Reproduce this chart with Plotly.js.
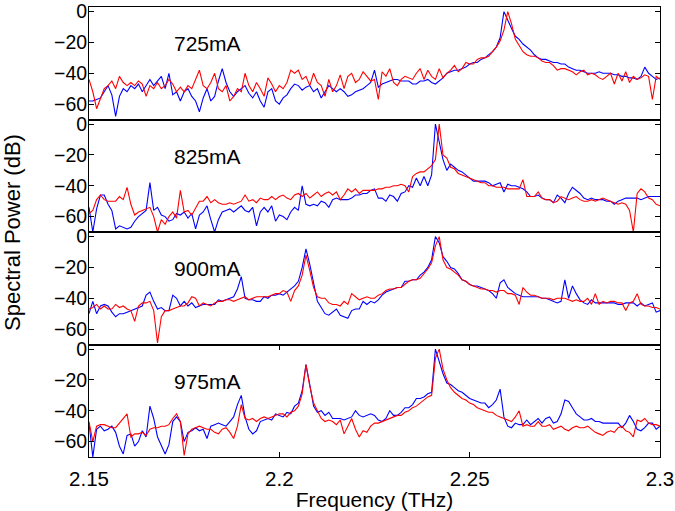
<!DOCTYPE html>
<html>
<head>
<meta charset="utf-8">
<script src="https://cdn.plot.ly/plotly-3.0.1.min.js"></script>
<style>html,body{margin:0;padding:0;background:#fff;}#chart{width:675px;height:511px;}</style>
</head>
<body>
<div id="chart"></div>
<script>
// Frequency grid (THz)
const freq = [
2.150,2.151,2.152,2.153,2.154,2.155,2.156,2.157,2.158,2.159,
2.160,2.161,2.162,2.163,2.164,2.165,2.166,2.167,2.168,2.169,
2.170,2.171,2.172,2.173,2.174,2.175,2.176,2.177,2.178,2.179,
2.180,2.181,2.182,2.183,2.184,2.185,2.186,2.187,2.188,2.189,
2.190,2.191,2.192,2.193,2.194,2.195,2.196,2.197,2.198,2.199,
2.200,2.201,2.202,2.203,2.204,2.205,2.206,2.207,2.208,2.209,
2.210,2.211,2.212,2.213,2.214,2.215,2.216,2.217,2.218,2.219,
2.220,2.221,2.222,2.223,2.224,2.225,2.226,2.227,2.228,2.229,
2.230,2.231,2.232,2.233,2.234,2.235,2.236,2.237,2.238,2.239,
2.240,2.241,2.242,2.243,2.244,2.245,2.246,2.247,2.248,2.249,
2.250,2.251,2.252,2.253,2.254,2.255,2.256,2.257,2.258,2.259,
2.260,2.261,2.262,2.263,2.264,2.265,2.266,2.267,2.268,2.269,
2.270,2.271,2.272,2.273,2.274,2.275,2.276,2.277,2.278,2.279,
2.280,2.281,2.282,2.283,2.284,2.285,2.286,2.287,2.288,2.289,
2.290,2.291,2.292,2.293,2.294,2.295,2.296,2.297,2.298,2.299,
2.300];

const currents = ["725mA", "825mA", "900mA", "975mA"];

// 725 mA
const blue725 = [
-58,-58,-57,-56,-52,-48,-54,-68,-55,-50,
-52,-48,-50,-47,-52,-48,-44,-48,-45,-42,
-50,-40,-54,-52,-58,-52,-50,-55,-58,-65,
-56,-50,-58,-55,-45,-37,-46,-52,-55,-52,
-50,-48,-53,-56,-52,-58,-62,-52,-50,-58,
-60,-56,-54,-50,-47,-48,-51,-49,-48,-52,
-50,-56,-52,-48,-50,-52,-50,-52,-55,-54,
-52,-51,-50,-48,-46,-38,-49,-47,-46,-45,
-44,-44,-45,-45,-45,-47,-47,-45,-45,-44,
-46,-47,-45,-43,-40,-39,-38,-38,-37,-36,
-34,-33,-33,-31,-30,-28,-26,-23,-17,0,
-6,-11,-16,-18,-21,-23,-25,-28,-30,-31,
-31,-32,-33,-33,-34,-34,-36,-37,-38,-38,
-39,-40,-40,-40,-39,-40,-40,-40,-41,-41,
-42,-42,-43,-43,-44,-42,-36,-40,-42,-44,-43];
const red725 = [
-44,-52,-63,-56,-50,-48,-45,-50,-42,-46,
-48,-46,-48,-45,-47,-55,-48,-50,-46,-50,
-48,-44,-47,-52,-49,-52,-48,-50,-44,-38,
-48,-50,-46,-40,-50,-52,-48,-58,-55,-50,
-52,-40,-48,-52,-46,-50,-55,-43,-47,-52,
-48,-50,-46,-38,-40,-38,-44,-42,-48,-40,
-46,-48,-55,-44,-52,-48,-41,-50,-42,-40,
-46,-44,-39,-42,-45,-44,-57,-39,-42,-37,
-46,-48,-44,-42,-43,-44,-40,-37,-44,-38,
-42,-44,-37,-43,-40,-38,-35,-39,-37,-33,
-34,-34,-31,-30,-30,-29,-26,-23,-19,-12,
0,-8,-18,-22,-26,-28,-29,-29,-30,-32,
-33,-33,-35,-38,-37,-37,-38,-39,-41,-39,
-38,-41,-40,-41,-43,-44,-42,-40,-47,-40,
-45,-39,-46,-42,-44,-43,-41,-42,-57,-42,-44];

// 825 mA
const blue825 = [
-54,-70,-55,-46,-46,-52,-56,-68,-66,-67,
-68,-67,-63,-60,-58,-56,-38,-56,-54,-59,
-60,-63,-62,-58,-59,-57,-61,-58,-68,-59,
-57,-53,-62,-70,-62,-57,-56,-55,-57,-55,
-53,-56,-57,-54,-66,-57,-54,-57,-53,-63,
-59,-60,-62,-57,-54,-56,-40,-52,-53,-52,
-53,-50,-51,-54,-49,-48,-49,-49,-49,-48,
-46,-46,-45,-45,-43,-42,-48,-48,-50,-46,
-47,-50,-45,-44,-40,-41,-35,-40,-34,-40,
-33,0,-12,-23,-30,-26,-28,-30,-31,-33,
-35,-37,-37,-37,-37,-38,-40,-39,-38,-44,
-39,-40,-40,-41,-42,-44,-47,-47,-46,-48,
-49,-49,-51,-46,-48,-51,-45,-41,-43,-45,
-48,-49,-48,-49,-49,-49,-50,-50,-52,-50,
-49,-48,-48,-48,-48,-49,-48,-47,-47,-47,-47];
const red825 = [
-58,-56,-49,-46,-49,-50,-50,-50,-47,-49,
-41,-52,-59,-57,-56,-55,-54,-60,-70,-62,
-65,-60,-57,-61,-43,-57,-56,-59,-54,-50,
-50,-47,-51,-49,-51,-52,-52,-51,-52,-51,
-50,-46,-50,-49,-51,-48,-49,-49,-47,-49,
-47,-46,-48,-49,-46,-45,-47,-45,-48,-46,
-44,-47,-45,-44,-46,-44,-49,-46,-42,-44,
-42,-45,-43,-43,-43,-43,-42,-42,-41,-41,
-40,-40,-39,-40,-44,-34,-32,-31,-31,-29,
-27,-23,0,-20,-22,-28,-29,-32,-33,-34,
-35,-36,-37,-38,-38,-40,-40,-41,-41,-41,
-42,-42,-42,-42,-36,-47,-47,-47,-44,-48,
-49,-49,-51,-50,-47,-48,-49,-48,-47,-49,
-50,-50,-49,-50,-49,-48,-49,-50,-51,-52,
-51,-52,-56,-70,-45,-42,-44,-48,-49,-52,-53];

// 900 mA
const blue900 = [
-50,-42,-50,-45,-44,-45,-49,-52,-50,-50,
-49,-48,-47,-46,-45,-38,-36,-42,-47,-46,
-48,-48,-38,-40,-45,-42,-45,-43,-46,-45,
-44,-44,-44,-44,-41,-42,-41,-40,-39,-34,
-26,-40,-41,-41,-42,-42,-39,-40,-38,-38,
-37,-38,-36,-34,-32,-29,-20,-8,-18,-30,
-42,-46,-50,-51,-49,-47,-51,-52,-53,-48,
-47,-47,-42,-44,-42,-43,-41,-38,-36,-35,
-34,-33,-33,-29,-29,-28,-28,-25,-23,-20,
-15,0,-4,-13,-16,-20,-21,-24,-28,-29,
-31,-32,-32,-33,-34,-35,-37,-40,-30,-28,
-33,-35,-37,-38,-39,-39,-39,-39,-39,-40,
-40,-41,-42,-43,-42,-28,-40,-32,-37,-41,
-43,-44,-41,-43,-43,-43,-43,-43,-43,-44,
-44,-43,-43,-43,-45,-43,-45,-44,-43,-49,-48];
const red900 = [
-47,-46,-44,-47,-45,-47,-47,-44,-46,-45,
-47,-48,-55,-45,-43,-43,-42,-48,-69,-52,
-48,-48,-47,-46,-45,-45,-43,-39,-40,-45,
-43,-44,-45,-43,-42,-42,-41,-41,-42,-41,
-40,-39,-41,-40,-39,-39,-39,-39,-38,-37,
-37,-35,-36,-42,-35,-32,-25,-12,-22,-33,
-39,-40,-40,-43,-44,-44,-45,-42,-44,-37,
-39,-41,-40,-39,-40,-40,-38,-37,-35,-34,
-34,-33,-33,-31,-29,-28,-28,-27,-24,-21,
-17,-6,0,-15,-20,-21,-23,-25,-28,-29,
-31,-32,-33,-34,-34,-35,-35,-36,-35,-35,
-37,-37,-38,-44,-33,-36,-38,-38,-39,-40,
-40,-40,-41,-40,-40,-40,-41,-42,-41,-42,
-42,-40,-44,-37,-44,-42,-43,-42,-42,-43,
-43,-48,-43,-42,-37,-44,-45,-45,-46,-46,-47];

// 975 mA
const blue975 = [
-48,-70,-52,-50,-53,-52,-50,-54,-63,-68,
-56,-55,-63,-60,-53,-57,-37,-45,-57,-63,
-68,-62,-47,-44,-47,-60,-54,-53,-51,-53,
-52,-58,-50,-49,-48,-49,-50,-47,-44,-36,
-30,-44,-52,-55,-53,-47,-46,-45,-46,-42,
-43,-44,-41,-42,-37,-35,-27,-10,-23,-37,
-41,-40,-43,-41,-45,-45,-45,-46,-45,-44,
-40,-43,-44,-43,-42,-43,-46,-47,-45,-40,
-43,-43,-41,-38,-38,-36,-32,-32,-31,-29,
-28,0,-8,-16,-22,-23,-25,-27,-28,-30,
-32,-33,-34,-35,-35,-38,-36,-33,-26,-44,
-50,-51,-48,-49,-49,-46,-49,-47,-45,-48,
-45,-44,-48,-47,-42,-33,-34,-38,-42,-44,
-46,-46,-45,-47,-47,-48,-48,-48,-48,-48,
-51,-48,-43,-47,-52,-53,-51,-48,-48,-52,-50];
const red975 = [
-47,-60,-50,-49,-49,-50,-51,-51,-48,-45,
-42,-57,-55,-55,-54,-56,-52,-51,-51,-50,
-50,-49,-45,-42,-47,-69,-55,-52,-51,-50,
-51,-52,-52,-54,-55,-52,-51,-54,-58,-50,
-36,-45,-46,-45,-47,-45,-44,-45,-44,-43,
-42,-42,-44,-41,-40,-37,-29,-10,-24,-35,
-40,-45,-47,-46,-47,-49,-46,-55,-50,-45,
-52,-57,-53,-54,-50,-48,-48,-47,-46,-45,
-44,-43,-43,-41,-40,-38,-37,-35,-33,-31,
-30,-6,0,-13,-20,-25,-28,-30,-32,-33,
-35,-36,-38,-39,-40,-41,-41,-43,-44,-45,
-46,-47,-44,-40,-50,-49,-50,-50,-47,-50,
-50,-49,-52,-51,-50,-52,-53,-51,-50,-51,
-51,-50,-52,-54,-55,-56,-54,-53,-54,-51,
-50,-53,-54,-57,-46,-47,-45,-48,-49,-49,-50];

const yTickVals = [-60, -40, -20, 0];
const xTickVals = [2.15, 2.2, 2.25, 2.3];
const xTickText = ["2.15", "2.2", "2.25", "2.3"];

const blues = [blue725, blue825, blue900, blue975];
const reds = [red725, red825, red900, red975];

const FONT = "Liberation Sans, Arial, Helvetica, sans-serif";
const traces = [];
const layout = {
  width: 675, height: 511,
  margin: {l: 89, r: 15, t: 7, b: 54},
  paper_bgcolor: "#fff", plot_bgcolor: "#fff",
  showlegend: false,
  font: {family: FONT, size: 20, color: "#000"},
  annotations: []
};

for (let k = 0; k < 4; k++) {
  const n = k + 1;
  const xa = n === 1 ? "x" : "x" + n;
  const ya = n === 1 ? "y" : "y" + n;
  traces.push({x: freq, y: blues[k], xaxis: xa, yaxis: ya, type: "scatter", mode: "lines",
    line: {color: "#0000ff", width: 1.1}, hoverinfo: "skip"});
  traces.push({x: freq, y: reds[k], xaxis: xa, yaxis: ya, type: "scatter", mode: "lines",
    line: {color: "#ff0000", width: 1.1}, hoverinfo: "skip"});
  const top = 1 - 0.25 * k, bot = 1 - 0.25 * (k + 1);
  const isBottom = (k === 3);
  layout[n === 1 ? "xaxis" : "xaxis" + n] = {
    domain: [0, 1], anchor: ya, range: [2.15, 2.3],
    showline: true, linecolor: "#000", linewidth: 1,
    mirror: isBottom ? "ticks" : true,
    ticks: isBottom ? "inside" : "", ticklen: 5, tickcolor: "#000",
    tickvals: xTickVals, ticktext: xTickText,
    showticklabels: isBottom, showgrid: false, zeroline: false,
    ticklabelstandoff: 3,
    tickfont: {family: FONT, size: 20.5, color: "#000"},
    title: isBottom ? {text: "Frequency (THz)", font: {family: FONT, size: 21, color: "#000"}, standoff: 6} : {text: ""}
  };
  layout[n === 1 ? "yaxis" : "yaxis" + n] = {
    domain: [bot, top], anchor: xa, range: [-70, 3],
    showline: true, linecolor: "#000", linewidth: 1, mirror: "ticks",
    ticks: "inside", ticklen: 5, tickcolor: "#000",
    tickvals: yTickVals, showgrid: false, zeroline: false,
    ticklabeloverflow: "allow", ticklabelstandoff: -3,
    tickfont: {family: FONT, size: 19.5, color: "#000"}
  };
  layout.annotations.push({
    text: currents[k], xref: xa, yref: ya, x: 2.181, y: -21,
    showarrow: false, xanchor: "center", yanchor: "middle",
    font: {family: FONT, size: 21, color: "#000"}
  });
}
layout.annotations.push({
  text: "Spectral Power (dB)", xref: "paper", yref: "paper",
  x: -0.135, y: 0.5, textangle: -90, showarrow: false,
  xanchor: "center", yanchor: "middle",
  font: {family: FONT, size: 22, color: "#000"}
});

Plotly.newPlot("chart", traces, layout, {staticPlot: true, displayModeBar: false});
</script>
</body>
</html>
